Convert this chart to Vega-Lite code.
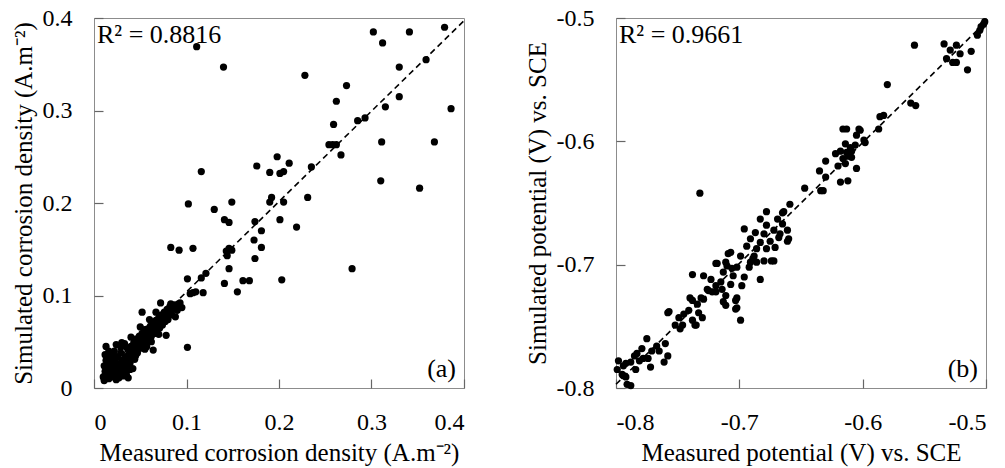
{
  "$schema": "https://vega.github.io/schema/vega-lite/v6.json",
  "padding": {"left": 10, "top": 5, "right": 2, "bottom": 2},
  "config": {
    "font": "Liberation Serif",
    "view": {"stroke": "#8c8c8c", "strokeWidth": 1},
    "axis": {
      "labelFont": "Liberation Serif", "titleFont": "Liberation Serif",
      "labelFontSize": 24, "titleFontSize": 25, "titleFontWeight": "normal",
      "labelColor": "#000", "titleColor": "#000",
      "grid": false, "domain": false, "zindex": 1,
      "ticks": true, "tickColor": "#666", "tickWidth": 1.2, "tickSize": 9, "offset": -9, "labelPadding": 22,
      "labelExpr": "replace(datum.label, '\u2212', '-')"
    },
    "axisY": {"titlePadding": 6},
    "axisX": {"titlePadding": 6}
  },
  "datasets": {
    "corrosion": [
      {"m": 0.111, "s": 0.369}, {"m": 0.140, "s": 0.347}, {"m": 0.116, "s": 0.234}, {"m": 0.102, "s": 0.199},
      {"m": 0.130, "s": 0.193}, {"m": 0.141, "s": 0.182}, {"m": 0.146, "s": 0.179}, {"m": 0.149, "s": 0.201},
      {"m": 0.176, "s": 0.240}, {"m": 0.174, "s": 0.180}, {"m": 0.181, "s": 0.170}, {"m": 0.173, "s": 0.160},
      {"m": 0.190, "s": 0.233}, {"m": 0.198, "s": 0.250}, {"m": 0.201, "s": 0.232}, {"m": 0.205, "s": 0.234},
      {"m": 0.211, "s": 0.243}, {"m": 0.192, "s": 0.206}, {"m": 0.190, "s": 0.201}, {"m": 0.205, "s": 0.201},
      {"m": 0.201, "s": 0.182}, {"m": 0.219, "s": 0.174}, {"m": 0.235, "s": 0.239}, {"m": 0.231, "s": 0.206},
      {"m": 0.228, "s": 0.338}, {"m": 0.254, "s": 0.263}, {"m": 0.258, "s": 0.263}, {"m": 0.262, "s": 0.263},
      {"m": 0.267, "s": 0.252}, {"m": 0.259, "s": 0.285}, {"m": 0.262, "s": 0.310}, {"m": 0.273, "s": 0.327},
      {"m": 0.285, "s": 0.289}, {"m": 0.293, "s": 0.292}, {"m": 0.302, "s": 0.385}, {"m": 0.312, "s": 0.373},
      {"m": 0.315, "s": 0.304}, {"m": 0.311, "s": 0.266}, {"m": 0.310, "s": 0.224}, {"m": 0.330, "s": 0.347},
      {"m": 0.330, "s": 0.315}, {"m": 0.341, "s": 0.385}, {"m": 0.352, "s": 0.216}, {"m": 0.359, "s": 0.355},
      {"m": 0.368, "s": 0.266}, {"m": 0.379, "s": 0.390}, {"m": 0.386, "s": 0.302},
      {"m": 0.083, "s": 0.152}, {"m": 0.092, "s": 0.149}, {"m": 0.107, "s": 0.151}, {"m": 0.101, "s": 0.118},
      {"m": 0.104, "s": 0.102}, {"m": 0.107, "s": 0.103}, {"m": 0.110, "s": 0.104}, {"m": 0.118, "s": 0.103},
      {"m": 0.116, "s": 0.119}, {"m": 0.121, "s": 0.124}, {"m": 0.143, "s": 0.148}, {"m": 0.146, "s": 0.151},
      {"m": 0.149, "s": 0.149}, {"m": 0.144, "s": 0.143}, {"m": 0.146, "s": 0.129}, {"m": 0.141, "s": 0.113},
      {"m": 0.155, "s": 0.104}, {"m": 0.161, "s": 0.116}, {"m": 0.168, "s": 0.116}, {"m": 0.181, "s": 0.152},
      {"m": 0.174, "s": 0.140}, {"m": 0.203, "s": 0.117}, {"m": 0.279, "s": 0.129}, {"m": 0.101, "s": 0.044},
      {"m": 0.052, "s": 0.082}, {"m": 0.013, "s": 0.045}, {"m": 0.024, "s": 0.047}, {"m": 0.078, "s": 0.057},
      {"m": 0.064, "s": 0.041}, {"m": 0.057, "s": 0.045}, {"m": 0.072, "s": 0.092}, {"m": 0.083, "s": 0.091},
      {"m": 0.092, "s": 0.091}, {"m": 0.088, "s": 0.077}, {"m": 0.095, "s": 0.087},
      {"m": 0.010, "s": 0.012}, {"m": 0.012, "s": 0.018}, {"m": 0.011, "s": 0.024}, {"m": 0.013, "s": 0.030},
      {"m": 0.014, "s": 0.014}, {"m": 0.015, "s": 0.022}, {"m": 0.016, "s": 0.010}, {"m": 0.017, "s": 0.027},
      {"m": 0.018, "s": 0.035}, {"m": 0.018, "s": 0.017}, {"m": 0.019, "s": 0.012}, {"m": 0.020, "s": 0.024},
      {"m": 0.021, "s": 0.031}, {"m": 0.022, "s": 0.019}, {"m": 0.022, "s": 0.040}, {"m": 0.023, "s": 0.014},
      {"m": 0.024, "s": 0.027}, {"m": 0.025, "s": 0.021}, {"m": 0.026, "s": 0.034}, {"m": 0.027, "s": 0.011},
      {"m": 0.027, "s": 0.017}, {"m": 0.028, "s": 0.025}, {"m": 0.029, "s": 0.038}, {"m": 0.030, "s": 0.030},
      {"m": 0.031, "s": 0.019}, {"m": 0.032, "s": 0.013}, {"m": 0.033, "s": 0.026}, {"m": 0.034, "s": 0.034},
      {"m": 0.035, "s": 0.022}, {"m": 0.036, "s": 0.043}, {"m": 0.037, "s": 0.030}, {"m": 0.038, "s": 0.037},
      {"m": 0.039, "s": 0.027}, {"m": 0.040, "s": 0.045}, {"m": 0.041, "s": 0.033}, {"m": 0.042, "s": 0.039},
      {"m": 0.043, "s": 0.049}, {"m": 0.044, "s": 0.031}, {"m": 0.045, "s": 0.043}, {"m": 0.046, "s": 0.053},
      {"m": 0.047, "s": 0.038}, {"m": 0.048, "s": 0.047}, {"m": 0.049, "s": 0.056}, {"m": 0.050, "s": 0.043},
      {"m": 0.051, "s": 0.051}, {"m": 0.052, "s": 0.059}, {"m": 0.053, "s": 0.047}, {"m": 0.054, "s": 0.055},
      {"m": 0.055, "s": 0.063}, {"m": 0.056, "s": 0.050}, {"m": 0.057, "s": 0.058}, {"m": 0.058, "s": 0.064},
      {"m": 0.059, "s": 0.053}, {"m": 0.060, "s": 0.061}, {"m": 0.061, "s": 0.067}, {"m": 0.062, "s": 0.056},
      {"m": 0.063, "s": 0.064}, {"m": 0.064, "s": 0.070}, {"m": 0.065, "s": 0.059}, {"m": 0.066, "s": 0.066},
      {"m": 0.067, "s": 0.073}, {"m": 0.068, "s": 0.062}, {"m": 0.069, "s": 0.069}, {"m": 0.070, "s": 0.076},
      {"m": 0.071, "s": 0.065}, {"m": 0.072, "s": 0.071}, {"m": 0.073, "s": 0.079}, {"m": 0.074, "s": 0.068},
      {"m": 0.075, "s": 0.074}, {"m": 0.076, "s": 0.082}, {"m": 0.077, "s": 0.072}, {"m": 0.078, "s": 0.077},
      {"m": 0.079, "s": 0.085}, {"m": 0.080, "s": 0.074}, {"m": 0.081, "s": 0.081}, {"m": 0.082, "s": 0.088},
      {"m": 0.084, "s": 0.079}, {"m": 0.085, "s": 0.085}, {"m": 0.087, "s": 0.090}, {"m": 0.090, "s": 0.084},
      {"m": 0.093, "s": 0.092}, {"m": 0.012, "s": 0.036}, {"m": 0.016, "s": 0.040}, {"m": 0.029, "s": 0.044},
      {"m": 0.033, "s": 0.048}, {"m": 0.035, "s": 0.015}, {"m": 0.039, "s": 0.020}, {"m": 0.011, "s": 0.008},
      {"m": 0.045, "s": 0.035}, {"m": 0.055, "s": 0.042}, {"m": 0.062, "s": 0.050}, {"m": 0.070, "s": 0.058},
      {"m": 0.040, "s": 0.055}, {"m": 0.050, "s": 0.066}, {"m": 0.060, "s": 0.074}, {"m": 0.067, "s": 0.082},
      {"m": 0.030, "s": 0.049}, {"m": 0.020, "s": 0.037}, {"m": 0.015, "s": 0.033}, {"m": 0.042, "s": 0.021},
      {"m": 0.037, "s": 0.011}, {"m": 0.024, "s": 0.009}
    ],
    "corrosionFit": [{"m": 0.008, "s": 0.014}, {"m": 0.4, "s": 0.397}],
    "potential": [
      {"m": -0.732, "s": -0.642}, {"m": -0.558, "s": -0.522}, {"m": -0.580, "s": -0.554}, {"m": -0.561, "s": -0.569},
      {"m": -0.557, "s": -0.571}, {"m": -0.586, "s": -0.580}, {"m": -0.583, "s": -0.579}, {"m": -0.587, "s": -0.590},
      {"m": -0.534, "s": -0.521}, {"m": -0.529, "s": -0.526}, {"m": -0.524, "s": -0.522}, {"m": -0.532, "s": -0.533},
      {"m": -0.527, "s": -0.536}, {"m": -0.524, "s": -0.536}, {"m": -0.521, "s": -0.529}, {"m": -0.512, "s": -0.527},
      {"m": -0.515, "s": -0.542}, {"m": -0.507, "s": -0.514}, {"m": -0.505, "s": -0.510}, {"m": -0.502, "s": -0.505},
      {"m": -0.501, "s": -0.503}, {"m": -0.504, "s": -0.507},
      {"m": -0.616, "s": -0.590}, {"m": -0.613, "s": -0.590}, {"m": -0.603, "s": -0.590}, {"m": -0.605, "s": -0.595},
      {"m": -0.599, "s": -0.599}, {"m": -0.598, "s": -0.601}, {"m": -0.614, "s": -0.602}, {"m": -0.618, "s": -0.608},
      {"m": -0.609, "s": -0.608}, {"m": -0.622, "s": -0.610}, {"m": -0.616, "s": -0.614}, {"m": -0.612, "s": -0.612},
      {"m": -0.620, "s": -0.620}, {"m": -0.614, "s": -0.618}, {"m": -0.605, "s": -0.622}, {"m": -0.630, "s": -0.616},
      {"m": -0.635, "s": -0.624}, {"m": -0.630, "s": -0.629}, {"m": -0.618, "s": -0.633}, {"m": -0.612, "s": -0.632},
      {"m": -0.632, "s": -0.640}, {"m": -0.647, "s": -0.638}, {"m": -0.659, "s": -0.651}, {"m": -0.665, "s": -0.658},
      {"m": -0.634, "s": -0.640}, {"m": -0.602, "s": -0.591}, {"m": -0.610, "s": -0.605}, {"m": -0.606, "s": -0.603},
      {"m": -0.613, "s": -0.609}, {"m": -0.609, "s": -0.613},
      {"m": -0.664, "s": -0.657}, {"m": -0.678, "s": -0.657}, {"m": -0.683, "s": -0.663}, {"m": -0.669, "s": -0.663},
      {"m": -0.665, "s": -0.667}, {"m": -0.678, "s": -0.668}, {"m": -0.672, "s": -0.672}, {"m": -0.661, "s": -0.672},
      {"m": -0.660, "s": -0.679}, {"m": -0.696, "s": -0.671}, {"m": -0.687, "s": -0.674}, {"m": -0.680, "s": -0.675},
      {"m": -0.691, "s": -0.679}, {"m": -0.683, "s": -0.682}, {"m": -0.675, "s": -0.681}, {"m": -0.668, "s": -0.678},
      {"m": -0.694, "s": -0.685}, {"m": -0.686, "s": -0.687}, {"m": -0.678, "s": -0.687}, {"m": -0.671, "s": -0.686},
      {"m": -0.707, "s": -0.690}, {"m": -0.699, "s": -0.693}, {"m": -0.689, "s": -0.695}, {"m": -0.680, "s": -0.697},
      {"m": -0.672, "s": -0.697}, {"m": -0.718, "s": -0.699}, {"m": -0.710, "s": -0.701}, {"m": -0.702, "s": -0.702},
      {"m": -0.692, "s": -0.702}, {"m": -0.713, "s": -0.706}, {"m": -0.705, "s": -0.709}, {"m": -0.696, "s": -0.710},
      {"m": -0.683, "s": -0.712}, {"m": -0.738, "s": -0.708}, {"m": -0.729, "s": -0.709}, {"m": -0.723, "s": -0.712},
      {"m": -0.715, "s": -0.714}, {"m": -0.707, "s": -0.716}, {"m": -0.698, "s": -0.717}, {"m": -0.726, "s": -0.720},
      {"m": -0.719, "s": -0.722}, {"m": -0.711, "s": -0.725}, {"m": -0.702, "s": -0.727}, {"m": -0.740, "s": -0.727},
      {"m": -0.731, "s": -0.727},
      {"m": -0.699, "s": -0.745}, {"m": -0.703, "s": -0.729}, {"m": -0.702, "s": -0.735}, {"m": -0.713, "s": -0.730},
      {"m": -0.725, "s": -0.721}, {"m": -0.738, "s": -0.729}, {"m": -0.734, "s": -0.732}, {"m": -0.741, "s": -0.737},
      {"m": -0.745, "s": -0.740}, {"m": -0.749, "s": -0.743}, {"m": -0.752, "s": -0.749}, {"m": -0.748, "s": -0.752},
      {"m": -0.736, "s": -0.749}, {"m": -0.738, "s": -0.745}, {"m": -0.757, "s": -0.738}, {"m": -0.758, "s": -0.739},
      {"m": -0.760, "s": -0.764}, {"m": -0.758, "s": -0.774}, {"m": -0.761, "s": -0.779}, {"m": -0.767, "s": -0.766},
      {"m": -0.771, "s": -0.770}, {"m": -0.775, "s": -0.760}, {"m": -0.779, "s": -0.768}, {"m": -0.783, "s": -0.772},
      {"m": -0.781, "s": -0.778}, {"m": -0.785, "s": -0.774}, {"m": -0.788, "s": -0.779}, {"m": -0.772, "s": -0.783},
      {"m": -0.794, "s": -0.782}, {"m": -0.798, "s": -0.778}, {"m": -0.799, "s": -0.785}, {"m": -0.794, "s": -0.790},
      {"m": -0.791, "s": -0.797}, {"m": -0.795, "s": -0.789}, {"m": -0.788, "s": -0.798}, {"m": -0.792, "s": -0.780},
      {"m": -0.661, "s": -0.681}, {"m": -0.667, "s": -0.675}, {"m": -0.674, "s": -0.697}, {"m": -0.706, "s": -0.703},
      {"m": -0.711, "s": -0.698}, {"m": -0.719, "s": -0.699}, {"m": -0.709, "s": -0.691}, {"m": -0.688, "s": -0.693},
      {"m": -0.691, "s": -0.698}, {"m": -0.686, "s": -0.698},
      {"m": -0.784, "s": -0.785}, {"m": -0.778, "s": -0.776}, {"m": -0.774, "s": -0.776}, {"m": -0.765, "s": -0.770},
      {"m": -0.792, "s": -0.791}, {"m": -0.730, "s": -0.743}, {"m": -0.733, "s": -0.739}, {"m": -0.735, "s": -0.749},
      {"m": -0.746, "s": -0.749}, {"m": -0.722, "s": -0.722}, {"m": -0.714, "s": -0.720}, {"m": -0.711, "s": -0.733},
      {"m": -0.703, "s": -0.736}, {"m": -0.729, "s": -0.728}, {"m": -0.719, "s": -0.717}
    ],
    "potentialFit": [{"m": -0.8, "s": -0.797}, {"m": -0.5, "s": -0.503}],
    "labelsA": [{"r2": "R² = 0.8816", "tag": "(a)"}],
    "labelsB": [{"r2": "R² = 0.9661", "tag": "(b)"}]
  },
  "hconcat": [
    {
      "width": 370,
      "height": 370,
      "layer": [
        {
          "data": {"name": "corrosion"},
          "mark": {"type": "circle", "size": 52, "color": "#000", "opacity": 1},
          "encoding": {
            "x": {"field": "m", "type": "quantitative", "scale": {"domain": [0, 0.4], "nice": false},
                  "axis": {"values": [0, 0.1, 0.2, 0.3, 0.4], "format": ".1~f"},
                  "title": "Measured corrosion density (A.m⁻²)"},
            "y": {"field": "s", "type": "quantitative", "scale": {"domain": [0, 0.4], "nice": false},
                  "axis": {"values": [0, 0.1, 0.2, 0.3, 0.4], "format": ".1~f"},
                  "title": "Simulated corrosion density (A.m⁻²)"}
          }
        },
        {
          "data": {"name": "corrosionFit"},
          "mark": {"type": "line", "color": "#000", "strokeWidth": 1.6, "strokeDash": [6, 4]},
          "encoding": {
            "x": {"field": "m", "type": "quantitative"},
            "y": {"field": "s", "type": "quantitative"}
          }
        },
        {
          "data": {"name": "labelsA"},
          "mark": {"type": "text", "align": "left", "baseline": "top", "fontSize": 26, "dx": 3, "dy": 4},
          "encoding": {"x": {"datum": 0}, "y": {"datum": 0.4}, "text": {"field": "r2"}}
        },
        {
          "data": {"name": "labelsA"},
          "mark": {"type": "text", "align": "right", "baseline": "bottom", "fontSize": 26, "dx": -8, "dy": -6},
          "encoding": {"x": {"datum": 0.4}, "y": {"datum": 0}, "text": {"field": "tag"}}
        }
      ]
    },
    {
      "width": 370,
      "height": 370,
      "layer": [
        {
          "data": {"name": "potential"},
          "mark": {"type": "circle", "size": 52, "color": "#000", "opacity": 1},
          "encoding": {
            "x": {"field": "m", "type": "quantitative", "scale": {"domain": [-0.8, -0.5], "nice": false},
                  "axis": {"values": [-0.8, -0.7, -0.6, -0.5], "format": ".1f"},
                  "title": "Measured potential (V) vs. SCE"},
            "y": {"field": "s", "type": "quantitative", "scale": {"domain": [-0.8, -0.5], "nice": false},
                  "axis": {"values": [-0.8, -0.7, -0.6, -0.5], "format": ".1f"},
                  "title": "Simulated potential (V) vs. SCE"}
          }
        },
        {
          "data": {"name": "potentialFit"},
          "mark": {"type": "line", "color": "#000", "strokeWidth": 1.6, "strokeDash": [6, 4]},
          "encoding": {
            "x": {"field": "m", "type": "quantitative"},
            "y": {"field": "s", "type": "quantitative"}
          }
        },
        {
          "data": {"name": "labelsB"},
          "mark": {"type": "text", "align": "left", "baseline": "top", "fontSize": 26, "dx": 3, "dy": 4},
          "encoding": {"x": {"datum": -0.8}, "y": {"datum": -0.5}, "text": {"field": "r2"}}
        },
        {
          "data": {"name": "labelsB"},
          "mark": {"type": "text", "align": "right", "baseline": "bottom", "fontSize": 26, "dx": -8, "dy": -6},
          "encoding": {"x": {"datum": -0.5}, "y": {"datum": -0.8}, "text": {"field": "tag"}}
        }
      ]
    }
  ],
  "spacing": 56
}
